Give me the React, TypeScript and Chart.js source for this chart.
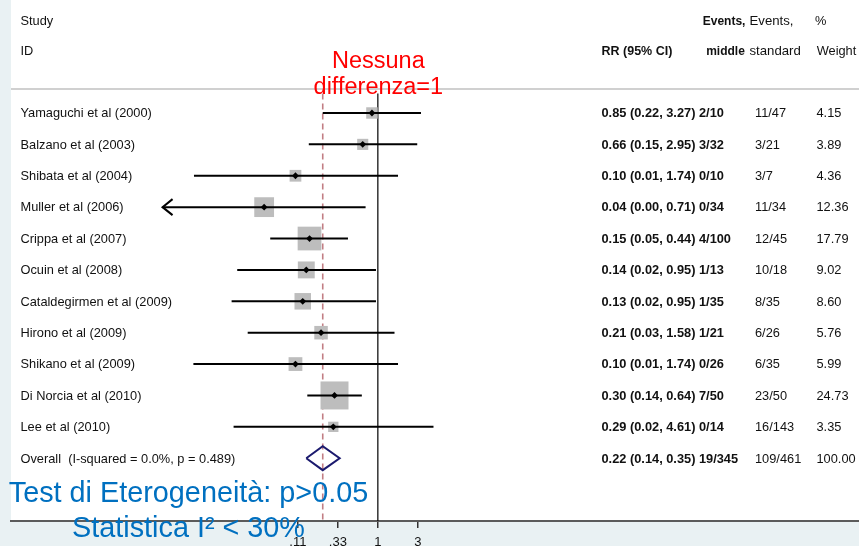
import React, { useEffect, useRef } from "react";
import { Chart, registerables } from "chart.js";

Chart.register(...registerables);

// ---------------- data ----------------
const studies = [
  "Yamaguchi et al (2000)",
  "Balzano et al (2003)",
  "Shibata et al (2004)",
  "Muller et al (2006)",
  "Crippa et al (2007)",
  "Ocuin et al (2008)",
  "Cataldegirmen et al (2009)",
  "Hirono et al (2009)",
  "Shikano et al (2009)",
  "Di Norcia et al (2010)",
  "Lee et al (2010)",
];
const riskRatio = [0.85, 0.66, 0.104, 0.044, 0.153, 0.14, 0.127, 0.21, 0.104, 0.304, 0.294];
const ciLower = [0.22, 0.15, 0.0064, 0.0004, 0.052, 0.021, 0.018, 0.028, 0.0063, 0.144, 0.019];
const ciUpper = [3.27, 2.95, 1.74, 0.714, 0.44, 0.95, 0.95, 1.58, 1.74, 0.644, 4.61];
const weights = [4.15, 3.89, 4.36, 12.36, 17.79, 9.02, 8.6, 5.76, 5.99, 24.73, 3.35];
const middleEvents = [2, 3, 0, 0, 4, 1, 1, 1, 0, 7, 0];
const middleTotals = [10, 32, 10, 34, 100, 13, 35, 21, 26, 50, 14];
const standardEvents = [11, 3, 3, 11, 12, 10, 8, 6, 6, 23, 16];
const standardTotals = [47, 21, 7, 34, 45, 18, 35, 26, 35, 50, 143];
const overallEstimate = [0.22, 0.14, 0.35]; // RR, lower, upper
const overallLabel = "Overall  (I-squared = 0.0%, p = 0.489)";
const tickValues = [1 / 9, 1 / 3, 1, 3];
const tickLabels = [".11", ".33", "1", "3"];
const redNote = ["Nessuna", "differenza=1"];
const blueNote = ["Test di Eterogeneità: p>0.05", "Statistica I\u00B2 < 30%"];

// ---------------- layout / style ----------------
const W = 859;
const H = 546;
const FONT = '"Liberation Sans", Arial, Helvetica, sans-serif';
const X_MIN = 4.2e-5;
const X_MAX = 5.5e5;
const Y_MIN = -3.6;
const Y_MAX = 13;
const CLIP_MIN = 0.0027;
const REF_TOP = -0.62;
const SEP_ROW = -0.765;
const DIAMOND_H = 0.38;
const BG = "#E9F1F3";
const TXT = "#111111";

const overallRow = studies.length;
const sum = (a: number[]) => a.reduce((s, v) => s + v, 0);

const boxDataset = {
  type: "scatter" as const,
  data: studies.map((_, i) => ({ x: riskRatio[i], y: i })),
  pointStyle: "rect",
  pointRadius: weights.map((w) => 3.98 * Math.sqrt(w)),
  pointBackgroundColor: "#BDBDBD",
  pointBorderWidth: 0,
  order: 3,
};
const dotDataset = {
  type: "scatter" as const,
  data: studies.map((_, i) => ({ x: riskRatio[i], y: i })),
  pointStyle: "rectRot",
  pointRadius: 3.4,
  pointBackgroundColor: "#000",
  pointBorderWidth: 0,
  order: 0,
};
const ciDatasets = studies.map((_, i) => ({
  type: "line" as const,
  data: [
    { x: Math.max(ciLower[i], CLIP_MIN), y: i },
    { x: ciUpper[i], y: i },
  ],
  borderColor: "#000",
  borderWidth: 2,
  pointRadius: 0,
  showLine: true,
  order: 1,
}));
const diamondDataset = {
  type: "line" as const,
  data: [
    { x: overallEstimate[1], y: overallRow },
    { x: overallEstimate[0], y: overallRow - DIAMOND_H },
    { x: overallEstimate[2], y: overallRow },
    { x: overallEstimate[0], y: overallRow + DIAMOND_H },
    { x: overallEstimate[1], y: overallRow },
  ],
  borderColor: "#1B1A6E",
  borderWidth: 2,
  borderJoinStyle: "miter",
  pointRadius: 0,
  showLine: true,
  fill: false,
  order: 1,
};
const nullLine = {
  type: "line" as const,
  data: [
    { x: 1, y: REF_TOP },
    { x: 1, y: Y_MAX },
  ],
  borderColor: "#000",
  borderWidth: 1.2,
  pointRadius: 0,
  showLine: true,
  order: 5,
};
const overallLine = {
  type: "line" as const,
  data: [
    { x: overallEstimate[0], y: REF_TOP },
    { x: overallEstimate[0], y: Y_MAX },
  ],
  borderColor: "#C27E84",
  borderWidth: 1.6,
  borderDash: [6, 4],
  pointRadius: 0,
  showLine: true,
  order: 4,
};

function drawText(
  ctx: CanvasRenderingContext2D,
  s: string,
  x: number,
  y: number,
  font: string,
  color = TXT,
  align: CanvasTextAlign = "left"
) {
  ctx.font = font;
  ctx.fillStyle = color;
  ctx.textAlign = align;
  ctx.textBaseline = "alphabetic";
  ctx.fillText(s, x, y);
}

const forestPlugin = {
  id: "forest",
  beforeDraw(chart: any) {
    const { ctx, chartArea } = chart;
    ctx.save();
    ctx.fillStyle = BG;
    ctx.fillRect(0, 0, chart.width, chart.height);
    ctx.fillStyle = "#fff";
    ctx.fillRect(chartArea.left, chartArea.top, chartArea.right - chartArea.left, chartArea.bottom - chartArea.top);
    const ys = chart.scales.y.getPixelForValue(SEP_ROW);
    ctx.strokeStyle = "#D0D0D0";
    ctx.lineWidth = 2;
    ctx.beginPath();
    ctx.moveTo(chartArea.left, ys);
    ctx.lineTo(chartArea.right, ys);
    ctx.stroke();
    ctx.restore();
  },
  afterDatasetsDraw(chart: any) {
    const { ctx } = chart;
    const xs = chart.scales.x;
    const ys = chart.scales.y;
    ctx.save();
    ctx.strokeStyle = "#000";
    ctx.lineWidth = 2;
    studies.forEach((_, i) => {
      if (ciLower[i] < CLIP_MIN) {
        const px = xs.getPixelForValue(CLIP_MIN);
        const py = ys.getPixelForValue(i);
        ctx.beginPath();
        ctx.moveTo(px + 10, py - 8);
        ctx.lineTo(px, py);
        ctx.lineTo(px + 10, py + 8);
        ctx.stroke();
      }
    });
    ctx.restore();
  },
  afterDraw(chart: any) {
    const { ctx } = chart;
    const xs = chart.scales.x;
    const ys = chart.scales.y;
    const reg = `12.8px ${FONT}`;
    const bold = `bold 12.8px ${FONT}`;
    const headBold = `bold 12px ${FONT}`;
    const base = (r: number) => ys.getPixelForValue(r) + 4.3;
    ctx.save();
    // headers
    const h1 = base(-2.95);
    const h2 = base(-2.0);
    drawText(ctx, "Study", 20.5, h1, reg);
    drawText(ctx, "ID", 20.5, h2, reg);
    drawText(ctx, "RR (95% CI)", 601.5, h2, `bold 12.5px ${FONT}`);
    drawText(ctx, "Events,", 702.7, h1, headBold);
    drawText(ctx, "middle", 706.2, h2, headBold);
    drawText(ctx, "Events,", 749.5, h1, `13.2px ${FONT}`);
    drawText(ctx, "standard", 749.5, h2, `13.2px ${FONT}`);
    drawText(ctx, "%", 815, h1, reg);
    drawText(ctx, "Weight", 816.7, h2, reg);
    // rows
    studies.forEach((name, i) => {
      const y = base(i);
      drawText(ctx, name, 20.5, y, reg);
      const ci = `${riskRatio[i].toFixed(2)} (${ciLower[i].toFixed(2)}, ${ciUpper[i].toFixed(2)}) ${middleEvents[i]}/${middleTotals[i]}`;
      drawText(ctx, ci, 601.5, y, bold);
      drawText(ctx, `${standardEvents[i]}/${standardTotals[i]}`, 755, y, reg);
      drawText(ctx, weights[i].toFixed(2), 816.5, y, reg);
    });
    const yo = base(overallRow);
    drawText(ctx, overallLabel, 20.5, yo, reg);
    drawText(
      ctx,
      `${overallEstimate[0].toFixed(2)} (${overallEstimate[1].toFixed(2)}, ${overallEstimate[2].toFixed(2)}) ${sum(middleEvents)}/${sum(middleTotals)}`,
      601.5,
      yo,
      bold
    );
    drawText(ctx, `${sum(standardEvents)}/${sum(standardTotals)}`, 755, yo, reg);
    drawText(ctx, sum(weights).toFixed(2), 816.5, yo, reg);
    // red note centred on the null line
    const cx = xs.getPixelForValue(1) + 0.5;
    drawText(ctx, redNote[0], cx, 68.3, `23.5px ${FONT}`, "#FF0000", "center");
    drawText(ctx, redNote[1], cx, 93.8, `23.5px ${FONT}`, "#FF0000", "center");
    // blue note
    drawText(ctx, blueNote[0], 188.5, 501.7, `28.8px ${FONT}`, "#0070C0", "center");
    drawText(ctx, blueNote[1], 188.5, 536.5, `28.8px ${FONT}`, "#0070C0", "center");
    ctx.restore();
  },
};

export default function App() {
  const ref = useRef<HTMLCanvasElement>(null);
  useEffect(() => {
    if (!ref.current) return;
    const chart = new Chart(ref.current, {
      type: "scatter",
      data: {
        datasets: [dotDataset, ...ciDatasets, diamondDataset, boxDataset, overallLine, nullLine] as any,
      },
      options: {
        animation: false,
        responsive: false,
        devicePixelRatio: 1,
        events: [],
        layout: { autoPadding: false, padding: { left: 11, right: 0, top: 0, bottom: 0 } },
        plugins: { legend: { display: false }, tooltip: { enabled: false } },
        scales: {
          x: {
            type: "logarithmic",
            min: X_MIN,
            max: X_MAX,
            bounds: "data",
            afterBuildTicks: (scale: any) => {
              scale.ticks = tickValues.map((v) => ({ value: v }));
            },
            afterFit: (scale: any) => {
              scale.height = H - 521;
            },
            ticks: {
              callback: (_v: any, i: number) => tickLabels[i],
              font: { family: FONT, size: 13 },
              color: TXT,
              padding: 7,
              maxRotation: 0,
              autoSkip: false,
            },
            grid: { drawOnChartArea: false, drawTicks: true, tickLength: 7, color: "#333", lineWidth: 1.5 },
            border: { display: true, color: "#5B5B5B", width: 2 },
          },
          y: {
            type: "linear",
            reverse: true,
            min: Y_MIN,
            max: Y_MAX,
            bounds: "data",
            display: false,
          },
        },
      } as any,
      plugins: [forestPlugin],
    });
    return () => chart.destroy();
  }, []);
  return (
    <div style={{ position: "fixed", left: 0, top: 0, width: W, height: H }}>
      <canvas ref={ref} width={W} height={H} style={{ display: "block", width: W, height: H }} />
    </div>
  );
}
